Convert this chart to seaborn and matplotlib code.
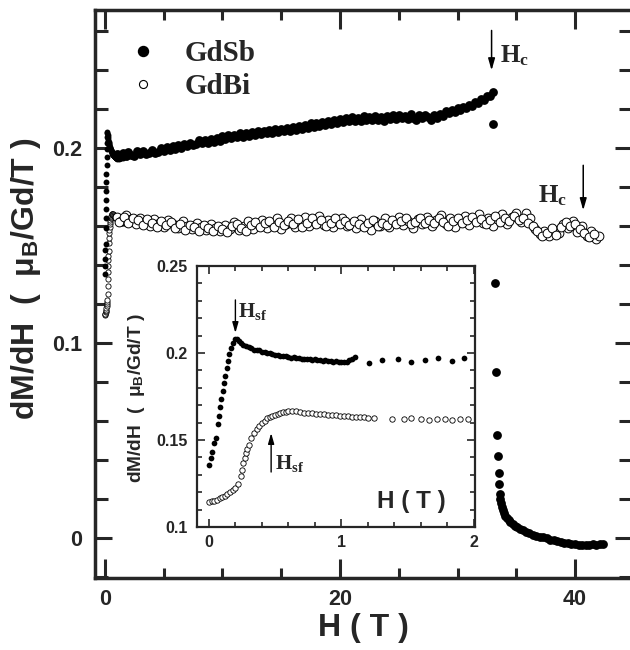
import numpy as np
import pandas as pd
import matplotlib
matplotlib.use("Agg")
import matplotlib.pyplot as plt
import seaborn as sns
from matplotlib.lines import Line2D

# ---------------- data ----------------
# low-field sweep (used in inset and in main panel near H=0)
gdsb_low_h = [0.00, 0.015, 0.025, 0.04, 0.05, 0.065, 0.075, 0.085, 0.095, 0.105, 0.115, 0.125, 0.135,
              0.145, 0.155, 0.165, 0.18, 0.195, 0.21, 0.225, 0.24, 0.26, 0.28, 0.30, 0.32, 0.34, 0.36,
              0.38, 0.40, 0.42, 0.44, 0.46, 0.48, 0.50, 0.52, 0.54, 0.56, 0.58, 0.60, 0.62, 0.64, 0.66,
              0.68, 0.70, 0.72, 0.74, 0.76, 0.78, 0.80, 0.82, 0.84, 0.86, 0.88, 0.90, 0.92, 0.94, 0.96,
              0.98, 1.00, 1.02, 1.04, 1.06, 1.08, 1.10, 1.21, 1.31, 1.43, 1.53, 1.63, 1.73, 1.84, 1.93]
gdsb_low_m = [0.1356, 0.1395, 0.1430, 0.1480, 0.1510, 0.1590, 0.1640, 0.1690, 0.1735, 0.1780, 0.1825,
              0.1870, 0.1915, 0.1955, 0.1995, 0.2030, 0.2060, 0.2082, 0.2078, 0.2068, 0.2058, 0.2048,
              0.2040, 0.2033, 0.2027, 0.2020, 0.2015, 0.2016, 0.2007, 0.2004, 0.2000, 0.2002, 0.1994,
              0.1990, 0.1991, 0.1984, 0.1980, 0.1982, 0.1977, 0.1973, 0.1975, 0.1970, 0.1971, 0.1966,
              0.1968, 0.1964, 0.1967, 0.1961, 0.1963, 0.1958, 0.1961, 0.1955, 0.1958, 0.1953, 0.1956,
              0.1950, 0.1953, 0.1948, 0.1951, 0.1946, 0.1950, 0.1958, 0.1968, 0.1975, 0.1943, 0.1962,
              0.1966, 0.1948, 0.1960, 0.1970, 0.1956, 0.1970]

gdbi_low_h = [0.00, 0.02, 0.04, 0.06, 0.08, 0.10, 0.12, 0.14, 0.16, 0.18, 0.20, 0.22, 0.24, 0.25, 0.26,
              0.27, 0.28, 0.29, 0.30, 0.32, 0.34, 0.36, 0.38, 0.40, 0.42, 0.44, 0.46, 0.48, 0.50, 0.52,
              0.54, 0.56, 0.58, 0.60, 0.63, 0.66, 0.69, 0.72, 0.75, 0.78, 0.81, 0.84, 0.87, 0.90, 0.93,
              0.96, 0.99, 1.02, 1.05, 1.08, 1.11, 1.14, 1.17, 1.20, 1.25, 1.38, 1.47, 1.53, 1.60, 1.66,
              1.72, 1.78, 1.84, 1.90, 1.96]
gdbi_low_m = [0.1144, 0.1148, 0.1152, 0.1158, 0.1165, 0.1172, 0.1180, 0.1190, 0.1200, 0.1212, 0.1222,
              0.1250, 0.1295, 0.1330, 0.1365, 0.1395, 0.1425, 0.1450, 0.1472, 0.1512, 0.1540, 0.1563,
              0.1582, 0.1598, 0.1612, 0.1624, 0.1633, 0.1640, 0.1645, 0.1650, 0.1655, 0.1659, 0.1662,
              0.1664, 0.1665, 0.1664, 0.1661, 0.1658, 0.1656, 0.1654, 0.1652, 0.1650, 0.1648, 0.1646,
              0.1644, 0.1642, 0.1640, 0.1638, 0.1636, 0.1634, 0.1633, 0.1631, 0.1630, 0.1628, 0.1626,
              0.1622, 0.1619, 0.1625, 0.1621, 0.1617, 0.1623, 0.1619, 0.1615, 0.1622, 0.1618]

# high-field sweep, GdSb
gdsb_h = [1.00, 1.25, 1.50, 1.75, 2.00, 2.25, 2.50, 2.75, 3.00, 3.25, 3.50, 3.75, 4.00, 4.25, 4.50, 4.75,
          5.00, 5.25, 5.50, 5.75, 6.00, 6.25, 6.50, 6.75, 7.00, 7.25, 7.50, 7.75, 8.00, 8.25, 8.50, 8.75,
          9.00, 9.25, 9.50, 9.75, 10.00, 10.25, 10.50, 10.75, 11.00, 11.25, 11.50, 11.75, 12.00, 12.25,
          12.50, 12.75, 13.00, 13.25, 13.50, 13.75, 14.00, 14.25, 14.50, 14.75, 15.00, 15.25, 15.50,
          15.75, 16.00, 16.25, 16.50, 16.75, 17.00, 17.25, 17.50, 17.75, 18.00, 18.25, 18.50, 18.75,
          19.00, 19.25, 19.50, 19.75, 20.00, 20.25, 20.50, 20.75, 21.00, 21.25, 21.50, 21.75, 22.00,
          22.25, 22.50, 22.75, 23.00, 23.25, 23.50, 23.75, 24.00, 24.25, 24.50, 24.75, 25.00, 25.25,
          25.50, 25.75, 26.00, 26.25, 26.50, 26.75, 27.00, 27.25, 27.50, 27.75, 28.00, 28.25, 28.50,
          28.75, 29.00, 29.25, 29.50, 29.75, 30.00, 30.25, 30.50, 30.75, 31.00, 31.25, 31.50, 31.75,
          32.00, 32.25, 32.50, 32.75, 33.00,
          33.05, 33.15, 33.30, 33.40, 33.45, 33.50, 33.55, 33.60, 33.65, 33.70, 33.75, 33.85, 33.95,
          34.05, 34.20, 34.35, 34.50, 34.70, 34.90, 35.10, 35.35, 35.60, 35.85, 36.10, 36.40, 36.70,
          37.00, 37.30, 37.60, 37.90, 38.20, 38.50, 38.80, 39.10, 39.40, 39.70, 40.00, 40.30, 40.60,
          40.90, 41.20, 41.50, 41.80, 42.10, 42.40]
gdsb_m = [0.1972, 0.1958, 0.1975, 0.1962, 0.1981, 0.1966, 0.1960, 0.1984, 0.1970, 0.1987, 0.1972, 0.1975,
          0.1993, 0.1978, 0.1982, 0.2001, 0.1988, 0.2006, 0.1992, 0.2012, 0.1998, 0.2016, 0.2003, 0.2024,
          0.2010, 0.2030, 0.2016, 0.2021, 0.2041, 0.2025, 0.2044, 0.2029, 0.2050, 0.2034, 0.2055, 0.2040,
          0.2062, 0.2047, 0.2068, 0.2052, 0.2071, 0.2058, 0.2077, 0.2060, 0.2080, 0.2065, 0.2084, 0.2070,
          0.2088, 0.2073, 0.2090, 0.2078, 0.2096, 0.2080, 0.2098, 0.2083, 0.2101, 0.2087, 0.2106, 0.2091,
          0.2112, 0.2096, 0.2115, 0.2100, 0.2122, 0.2106, 0.2128, 0.2110, 0.2131, 0.2117, 0.2136, 0.2121,
          0.2142, 0.2126, 0.2145, 0.2131, 0.2150, 0.2136, 0.2155, 0.2138, 0.2162, 0.2140, 0.2156, 0.2141,
          0.2165, 0.2144, 0.2160, 0.2145, 0.2168, 0.2148, 0.2163, 0.2140, 0.2166, 0.2150, 0.2171, 0.2152,
          0.2170, 0.2155, 0.2168, 0.2150, 0.2174, 0.2158, 0.2148, 0.2170, 0.2157, 0.2173, 0.2160, 0.2145,
          0.2170, 0.2156, 0.2178, 0.2168, 0.2190, 0.2180, 0.2197, 0.2188, 0.2206, 0.2197, 0.2214, 0.2206,
          0.2222, 0.2218, 0.2236, 0.2234, 0.2252, 0.2250, 0.2270, 0.2268, 0.2288,
          0.2125, 0.1310, 0.0850, 0.0530, 0.0420, 0.0335, 0.0275, 0.0225, 0.0200, 0.0180, 0.0160,
          0.0145, 0.0128, 0.0115, 0.0102, 0.0092, 0.0080, 0.0072, 0.0062, 0.0055, 0.0046, 0.0040,
          0.0032, 0.0026, 0.0018, 0.0012, 0.0006, 0.0003, -0.0002, -0.0008, -0.0010, -0.0016, -0.0018,
          -0.0024, -0.0026, -0.0030, -0.0033, -0.0036, -0.0034, -0.0038, -0.0035, -0.0033, -0.0036,
          -0.0032, -0.0030]

# high-field sweep, GdBi (two interleaved passes)
gdbi_h = [1.0, 1.4, 1.8, 2.2, 2.6, 3.0, 3.4, 3.8, 4.2, 4.6, 5.0, 5.4, 5.8, 6.2, 6.6, 7.0, 7.4, 7.8, 8.2,
          8.6, 9.0, 9.4, 9.8, 10.2, 10.6, 11.0, 11.4, 11.8, 12.2, 12.6, 13.0, 13.4, 13.8, 14.2, 14.6,
          15.0, 15.4, 15.8, 16.2, 16.6, 17.0, 17.4, 17.8, 18.2, 18.6, 19.0, 19.4, 19.8, 20.2, 20.6,
          21.0, 21.4, 21.8, 22.2, 22.6, 23.0, 23.4, 23.8, 24.2, 24.6, 25.0, 25.4, 25.8, 26.2, 26.6,
          27.0, 27.4, 27.8, 28.2, 28.6, 29.0, 29.4, 29.8, 30.2, 30.6, 31.0, 31.4, 31.8, 32.2, 32.6,
          33.0, 33.4, 33.8, 34.2, 34.6, 35.0, 35.4, 35.8, 36.2, 36.6, 37.0, 37.4, 37.8, 38.2, 38.6,
          39.0, 39.4, 39.8, 40.2, 40.6, 41.0, 41.4, 41.8, 42.0,
          1.2, 1.6, 2.0, 2.4, 2.8, 3.2, 3.6, 4.0, 4.4, 4.8,
          5.2, 5.6, 6.0, 6.4, 6.8, 7.2, 7.6, 8.0, 8.4, 8.8,
          9.2, 9.6, 10.0, 10.4, 10.8, 11.2, 11.6, 12.0, 12.4, 12.8,
          13.2, 13.6, 14.0, 14.4, 14.8, 15.2, 15.6, 16.0, 16.4, 16.8,
          17.2, 17.6, 18.0, 18.4, 18.8, 19.2, 19.6, 20.0, 20.4, 20.8,
          21.2, 21.6, 22.0, 22.4, 22.8, 23.2, 23.6, 24.0, 24.4, 24.8,
          25.2, 25.6, 26.0, 26.4, 26.8, 27.2, 27.6, 28.0, 28.4, 28.8,
          29.2, 29.6, 30.0, 30.4, 30.8, 31.2, 31.6, 32.0, 32.4, 32.8,
          33.2, 33.6, 34.0, 34.4, 34.8, 35.2, 35.6, 36.0, 36.4, 36.8,
          37.2, 37.6, 38.0, 38.4, 38.8, 39.2, 39.6, 40.0, 40.4, 40.8,
          41.2, 41.6]
gdbi_m = [0.1650, 0.1628, 0.1660, 0.1635, 0.1612, 0.1645, 0.1622, 0.1603, 0.1638, 0.1615, 0.1598, 0.1632,
          0.1610, 0.1590, 0.1625, 0.1604, 0.1585, 0.1618, 0.1596, 0.1579, 0.1612, 0.1592, 0.1575, 0.1608,
          0.1588, 0.1620, 0.1580, 0.1602, 0.1628, 0.1585, 0.1610, 0.1632, 0.1590, 0.1615, 0.1640, 0.1588,
          0.1612, 0.1642, 0.1595, 0.1620, 0.1648, 0.1600, 0.1625, 0.1652, 0.1605, 0.1630, 0.1595, 0.1622,
          0.1645, 0.1600, 0.1618, 0.1590, 0.1635, 0.1608, 0.1580, 0.1625, 0.1602, 0.1640, 0.1595, 0.1620,
          0.1648, 0.1605, 0.1628, 0.1592, 0.1638, 0.1612, 0.1650, 0.1600, 0.1630, 0.1660, 0.1610, 0.1642,
          0.1598, 0.1632, 0.1655, 0.1608, 0.1640, 0.1665, 0.1615, 0.1645, 0.1600, 0.1635, 0.1662, 0.1612,
          0.1648, 0.1668, 0.1620, 0.1670, 0.1640, 0.1585, 0.1560, 0.1575, 0.1548, 0.1580, 0.1565, 0.1610,
          0.1590, 0.1625, 0.1572, 0.1600, 0.1550, 0.1575, 0.1535, 0.1552,
          0.1622, 0.1648, 0.1618, 0.1640, 0.1630, 0.1605, 0.1638, 0.1618, 0.1595, 0.1628,
          0.1608, 0.1620, 0.1592, 0.1612, 0.1582, 0.1608, 0.1598, 0.1575, 0.1605, 0.1590,
          0.1578, 0.1602, 0.1585, 0.1570, 0.1600, 0.1612, 0.1592, 0.1578, 0.1608, 0.1620,
          0.1595, 0.1615, 0.1625, 0.1598, 0.1620, 0.1605, 0.1628, 0.1610, 0.1635, 0.1598,
          0.1618, 0.1640, 0.1612, 0.1632, 0.1600, 0.1615, 0.1640, 0.1612, 0.1628, 0.1605,
          0.1625, 0.1610, 0.1595, 0.1618, 0.1632, 0.1600, 0.1618, 0.1608, 0.1632, 0.1612,
          0.1625, 0.1640, 0.1610, 0.1620, 0.1645, 0.1615, 0.1630, 0.1618, 0.1640, 0.1622,
          0.1600, 0.1625, 0.1645, 0.1615, 0.1630, 0.1650, 0.1622, 0.1638, 0.1610, 0.1630,
          0.1652, 0.1620, 0.1640, 0.1628, 0.1655, 0.1632, 0.1645, 0.1618, 0.1600, 0.1575,
          0.1548, 0.1565, 0.1590, 0.1555, 0.1598, 0.1620, 0.1600, 0.1612, 0.1585, 0.1565,
          0.1545, 0.1560]

# critical fields marked by arrows
hc_gdsb, hc_gdbi = 32.9, 40.7
hsf_gdsb, hsf_gdbi = 0.2, 0.47

# ---------------- style ----------------
sns.set_style("ticks")
plt.rcParams["font.family"] = ["Liberation Sans", "DejaVu Sans"]
plt.rcParams["font.weight"] = "bold"
plt.rcParams["axes.labelweight"] = "bold"
plt.rcParams["mathtext.fontset"] = "custom"
plt.rcParams["mathtext.rm"] = "Liberation Serif:bold"
plt.rcParams["mathtext.bf"] = "Liberation Serif:bold"
plt.rcParams["mathtext.it"] = "Liberation Serif:bold:italic"
plt.rcParams["mathtext.sf"] = "Liberation Sans:bold"

serif = dict(family=["Liberation Serif", "DejaVu Serif"], weight="bold")

W, H = 630, 650
fig = plt.figure(figsize=(W / 100, H / 100), dpi=100)
fig.patch.set_facecolor("white")
ax = fig.add_axes([95 / W, 1 - 578 / H, 537 / W, 568 / H])
axi = fig.add_axes([197 / W, 1 - 527 / H, 278 / W, 261 / H])

low_sb = pd.DataFrame({"H": gdsb_low_h, "M": gdsb_low_m})
low_bi = pd.DataFrame({"H": gdbi_low_h, "M": gdbi_low_m})
hi_sb = pd.DataFrame({"H": gdsb_h, "M": gdsb_m})
hi_bi = pd.DataFrame({"H": gdbi_h, "M": gdbi_m})

# ---- main panel ----
sns.scatterplot(data=low_bi, x="H", y="M", ax=ax, s=14, color="white", edgecolor="black",
                linewidth=0.6, marker="o", zorder=3)
sns.scatterplot(data=hi_bi, x="H", y="M", ax=ax, s=40, color="white", edgecolor="black",
                linewidth=0.7, marker="o", zorder=3)
sns.scatterplot(data=low_sb, x="H", y="M", ax=ax, s=18, color="black", linewidth=0, marker="o", zorder=4)
sns.scatterplot(data=hi_sb, x="H", y="M", ax=ax, s=40, color="black", linewidth=0, marker="o", zorder=4)

ax.set_xlim(-0.85, 44.85)
ax.set_ylim(-0.0205, 0.271)
ax.set_xticks([0, 20, 40], labels=["0", "20", "40"])
ax.set_xticks(np.arange(0, 45, 5), minor=True)
ax.set_yticks([0, 0.1, 0.2], labels=["0", "0.1", "0.2"])
ax.set_yticks(np.arange(-0.02, 0.27, 0.02), minor=True)
ax.tick_params(which="both", direction="in", top=True, right=True, width=2.2, labelsize=15.5)
ax.tick_params(axis="x", which="major", length=14, pad=8)
ax.tick_params(axis="x", which="minor", length=7)
ax.tick_params(axis="y", which="major", length=12, pad=9)
ax.tick_params(axis="y", which="minor", length=9.5)
for sp in ax.spines.values():
    sp.set_linewidth(2.5)
    sp.set_visible(True)

ax.set_xlabel("H ( T )", fontsize=23)
ax.xaxis.set_label_coords(0.499, -0.062)
ax.set_ylabel("dM/dH  (  μ$_\\mathsf{B}$/Gd/T )", fontsize=23)
ax.yaxis.set_label_coords(-0.097, 0.527)

leg_handles = [Line2D([], [], ls="", marker="o", color="black", markersize=7.2),
               Line2D([], [], ls="", marker="o", markerfacecolor="white", markeredgecolor="black",
                      markeredgewidth=0.8, markersize=5.8)]
ax.legend(leg_handles, ["GdSb", "GdBi"], loc="upper left", bbox_to_anchor=(0.062, 0.947),
          borderaxespad=0, borderpad=0, handlelength=1.0, handletextpad=0.94, labelspacing=0.2,
          frameon=False, prop=dict(family=["Liberation Serif", "DejaVu Serif"], weight="bold", size=21))

arrow = dict(arrowstyle="-|>,head_length=0.7,head_width=0.2", color="black", lw=1.1,
             shrinkA=0, shrinkB=0, mutation_scale=10)
ax.annotate("", xy=(hc_gdsb, 0.2400), xytext=(hc_gdsb, 0.2605), arrowprops=arrow)
ax.text(33.6, 0.2441, "H$_\\mathrm{c}$", fontsize=18, ha="left", va="baseline", **serif)
ax.annotate("", xy=(hc_gdbi, 0.1682), xytext=(hc_gdbi, 0.1913), arrowprops=arrow)
ax.text(39.35, 0.1723, "H$_\\mathrm{c}$", fontsize=18, ha="right", va="baseline", **serif)

# ---- inset ----
axi.set_facecolor("white")
sns.scatterplot(data=low_bi, x="H", y="M", ax=axi, s=15, color="white", edgecolor="black",
                linewidth=0.6, marker="o", zorder=3)
sns.scatterplot(data=low_sb, x="H", y="M", ax=axi, s=17, color="black", linewidth=0, marker="o", zorder=4)
axi.set_xlim(-0.09, 2.01)
axi.set_ylim(0.1, 0.25)
axi.set_xticks([0, 1, 2], labels=["0", "1", "2"])
axi.set_xticks(np.arange(0, 2.01, 0.2), minor=True)
axi.set_yticks([0.1, 0.15, 0.2, 0.25], labels=["0.1", "0.15", "0.2", "0.25"])
axi.set_yticks(np.arange(0.1, 0.251, 0.01), minor=True)
axi.tick_params(which="both", direction="in", top=True, right=True, width=1.2, labelsize=11.5)
axi.tick_params(which="major", length=5.5)
axi.tick_params(which="minor", length=3.5)
axi.tick_params(axis="y", pad=7)
axi.tick_params(axis="x", pad=6)
for sp in axi.spines.values():
    sp.set_linewidth(1.6)
    sp.set_visible(True)
axi.set_xlabel("H ( T )", fontsize=17.5)
axi.xaxis.set_label_coords(0.77, 0.14)
axi.set_ylabel("dM/dH  (  μ$_\\mathsf{B}$/Gd/T )", fontsize=13.8)
axi.yaxis.set_label_coords(-0.18, 0.495)

arrow_i = dict(arrowstyle="-|>,head_length=0.7,head_width=0.2", color="black", lw=1.0,
               shrinkA=0, shrinkB=0, mutation_scale=9)
axi.annotate("", xy=(hsf_gdsb, 0.2115), xytext=(hsf_gdsb, 0.2305), arrowprops=arrow_i)
axi.text(0.223, 0.2207, "H$_\\mathrm{sf}$", fontsize=15, ha="left", va="baseline", **serif)
axi.annotate("", xy=(hsf_gdbi, 0.154), xytext=(hsf_gdbi, 0.1316), arrowprops=arrow_i)
axi.text(0.50, 0.1333, "H$_\\mathrm{sf}$", fontsize=15, ha="left", va="baseline", **serif)

fig.savefig("out.png", dpi=100, facecolor="white")
